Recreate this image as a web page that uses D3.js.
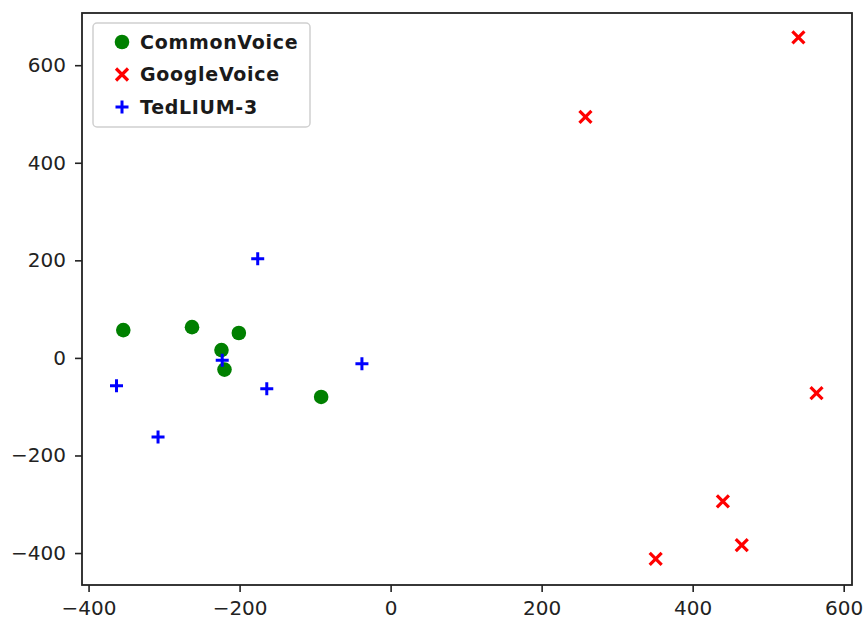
<!DOCTYPE html>
<meta charset="utf-8">
<style>
body {
    margin: 0;
    background: #fff;
}
.axis text {
    font: 20px "DejaVu Sans", sans-serif;
    fill: #222;
}
.axis line,
.axis path {
    fill: none;
    stroke: #222;
    stroke-width: 1.6px;
}
.legend text {
    font: bold 19px "DejaVu Sans", sans-serif;
    letter-spacing: 0.7px;
    fill: #1a1a1a;
}
</style>
<body>
<div id="scatter"></div>
<script src="https://d3js.org/d3.v7.min.js"></script>
<script>
// CommonVoice points
var commonX = [-354, -263, -201, -224, -220, -92];
var commonY = [57, 63, 51, 16, -24, -80];
// GoogleVoice points
var googleX = [540, 258, 564, 440, 465, 351];
var googleY = [657, 494, -72, -294, -384, -412];
// TedLIUM-3 points
var tedX = [-176, -363, -308, -223, -164, -38];
var tedY = [203, -57, -162, -5, -63, -12];

var xTicks = [-400, -200, 0, 200, 400, 600];
var yTicks = [-400, -200, 0, 200, 400, 600];

var seriesNames = ["CommonVoice", "GoogleVoice", "TedLIUM-3"];
var seriesColors = ["#008000", "#ff0000", "#0000ff"];
var seriesShapes = ["circle", "x", "plus"];

var width = 866, height = 620;
var margin = { top: 13, right: 14, bottom: 35, left: 82 };
var w = width - margin.left - margin.right,
    h = height - margin.top - margin.bottom;

var svg = d3.select("#scatter").append("svg")
    .attr("width", width)
    .attr("height", height);
var g = svg.append("g")
    .attr("transform", "translate(" + margin.left + "," + margin.top + ")");

var x = d3.scaleLinear().domain([-408.7, 611]).range([0, w]);
var y = d3.scaleLinear().domain([-465.5, 707]).range([h, 0]);

function toPoints(xs, ys) {
    return xs.map(function(v, i) { return { x: v, y: ys[i] }; });
}
var series = [toPoints(commonX, commonY), toPoints(googleX, googleY), toPoints(tedX, tedY)];

// draw one marker of given shape into selection
function drawMarker(sel, shape, color) {
    if (shape === "circle") {
        sel.append("circle").attr("r", 7.3).attr("fill", color);
    } else if (shape === "x") {
        sel.append("path").attr("d", "M-6,-6L6,6M-6,6L6,-6")
            .attr("stroke", color).attr("stroke-width", 3.2).attr("fill", "none");
    } else {
        sel.append("path").attr("d", "M-6.5,0L6.5,0M0,-6.5L0,6.5")
            .attr("stroke", color).attr("stroke-width", 3).attr("fill", "none");
    }
}

g.append("g")
    .attr("class", "axis axis--x")
    .attr("transform", "translate(0," + h + ")")
    .call(d3.axisBottom(x).tickValues(xTicks).tickSize(7).tickPadding(9).tickFormat(d3.format("d")))
    .call(function(a) { a.select(".domain").remove(); });

g.append("g")
    .attr("class", "axis axis--y")
    .call(d3.axisLeft(y).tickValues(yTicks).tickSize(7).tickPadding(9).tickFormat(d3.format("d")))
    .call(function(a) { a.select(".domain").remove(); });

// minus sign like the reference
g.selectAll(".axis text").text(function(d) { return d < 0 ? "\u2212" + Math.abs(d) : d; });

series.forEach(function(pts, i) {
    g.append("g").selectAll("g")
        .data(pts)
        .enter().append("g")
        .attr("transform", function(d) { return "translate(" + x(d.x) + "," + y(d.y) + ")"; })
        .each(function() { drawMarker(d3.select(this), seriesShapes[i], seriesColors[i]); });
});

// frame
g.append("rect")
    .attr("width", w).attr("height", h)
    .attr("fill", "none").attr("stroke", "#222").attr("stroke-width", 1.8);

// legend
var legend = g.append("g").attr("class", "legend").attr("transform", "translate(11,10)");
legend.append("rect")
    .attr("width", 217).attr("height", 104).attr("rx", 4)
    .attr("fill", "#fff").attr("fill-opacity", 0.8)
    .attr("stroke", "#d0d0d0").attr("stroke-width", 1.5);
seriesNames.forEach(function(name, i) {
    var row = legend.append("g").attr("transform", "translate(29," + (19 + i * 32.5) + ")");
    drawMarker(row, seriesShapes[i], seriesColors[i]);
    row.append("text").attr("x", 18).attr("dy", "0.36em").text(name);
});
</script>
